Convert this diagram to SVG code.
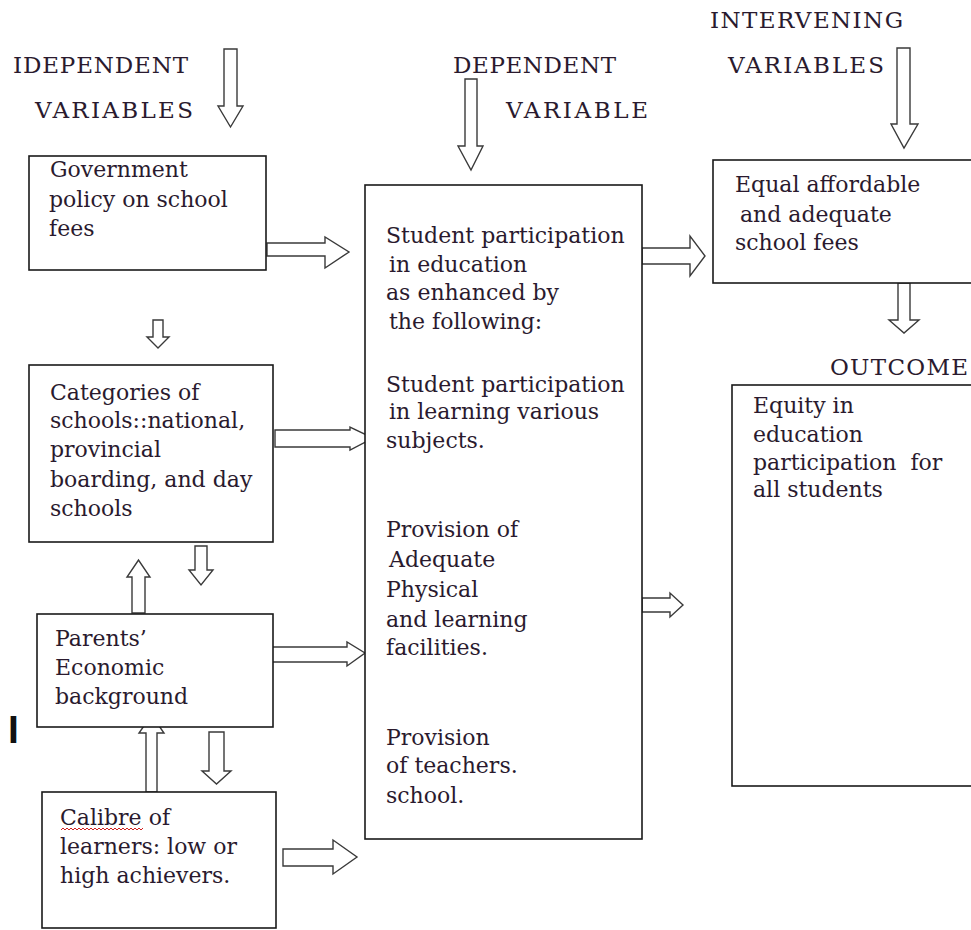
<svg xmlns="http://www.w3.org/2000/svg" width="971" height="930" viewBox="0 0 971 930">
<style>
.bg{fill:#ffffff}
.box{fill:#ffffff;stroke:#1a1a1a;stroke-width:1.6}
.arr{fill:#ffffff;stroke:#3a3a3a;stroke-width:1.4;stroke-linejoin:miter}
text{font-family:"DejaVu Serif","Liberation Serif",serif;font-size:22px;fill:#2a1a2e}
.hd{font-size:23px}
</style>
<rect class="bg" x="0" y="0" width="971" height="930"/>
<g id="headers">
<text class="hd" x="13" y="73" textLength="175" lengthAdjust="spacing">IDEPENDENT</text>
<text class="hd" x="35" y="118" textLength="158" lengthAdjust="spacing">VARIABLES</text>
<text class="hd" x="453" y="73" textLength="163" lengthAdjust="spacing">DEPENDENT</text>
<text class="hd" x="506" y="118" textLength="142" lengthAdjust="spacing">VARIABLE</text>
<text class="hd" x="710" y="28" textLength="193" lengthAdjust="spacing">INTERVENING</text>
<text class="hd" x="728" y="73" textLength="156" lengthAdjust="spacing">VARIABLES</text>
<text class="hd" x="830" y="375" textLength="138" lengthAdjust="spacing">OUTCOME</text>
<text x="8" y="743" style="font-family:'Liberation Sans',sans-serif;font-size:39px;font-weight:bold;fill:#111">I</text>
</g>
<g id="connectors">
<path class="arr" d="M224,49 H237 V106 H243 L230.5,127 L218,106 H224 Z"/>
<path class="arr" d="M465,79 H477 V146 H483 L471,170 L458,146 H465 Z"/>
<path class="arr" d="M897,48 H910 V124 H918 L904,148 L891,124 H897 Z"/>
<path class="arr" d="M153,320 H163 V337 H169 L158,348 L147,337 H153 Z"/>
<path class="arr" d="M195,546 H207 V570 H213 L201,585 L189,570 H195 Z"/>
<path class="arr" d="M132,613 H145 V577 H150 L138.5,560 L127,577 H132 Z"/>
<path class="arr" d="M146,792 H157 V733 H164 L151.5,715 L139,733 H146 Z"/>
<path class="arr" d="M209,732 H224 V771 H231 L216.5,784 L202,771 H209 Z"/>
<path class="arr" d="M898,283 H910 V320 H919 L904,333 L889,320 H898 Z"/>
<path class="arr" d="M267,243 H325 V237 L349,252 L325,268 V256 H267 Z"/>
<path class="arr" d="M275,430 H350 V427 L373,438 L350,450 V447 H275 Z"/>
<path class="arr" d="M267,647 H347 V642 L365,653 L347,666 V662 H267 Z"/>
<path class="arr" d="M283,849 H333 V840 L357,857 L333,874 V866 H283 Z"/>
<path class="arr" d="M642,248 H690 V236 L705,256 L690,276 V264 H642 Z"/>
<path class="arr" d="M642,598 H670 V593 L683,605 L670,617 V612 H642 Z"/>
</g>
<g id="government">
<rect class="box" x="29" y="156" width="237" height="114"/>
<text x="50" y="177">Government</text>
<text x="49" y="207">policy on school</text>
<text x="49" y="236">fees</text>
</g>
<g id="categories">
<rect class="box" x="29" y="365" width="244" height="177"/>
<text x="50" y="400">Categories of</text>
<text x="50" y="428">schools::national,</text>
<text x="50" y="457">provincial</text>
<text x="50" y="487">boarding, and day</text>
<text x="50" y="516">schools</text>
</g>
<g id="parents">
<rect class="box" x="37" y="614" width="236" height="113"/>
<text x="55" y="646">Parents’</text>
<text x="55" y="675">Economic</text>
<text x="55" y="704">background</text>
</g>
<g id="calibre">
<rect class="box" x="42" y="792" width="234" height="136"/>
<text x="60" y="825">Calibre of</text>
<path d="M61,830 l2,-2 l2,2 l2,-2 l2,2 l2,-2 l2,2 l2,-2 l2,2 l2,-2 l2,2 l2,-2 l2,2 l2,-2 l2,2 l2,-2 l2,2 l2,-2 l2,2 l2,-2 l2,2 l2,-2 l2,2 l2,-2 l2,2 l2,-2 l2,2 l2,-2 l2,2 l2,-2 l2,2 l2,-2 l2,2 l2,-2 l2,2 l2,-2 l2,2 l2,-2 l2,2 l2,-2 l2,2 l2,-2" fill="none" stroke="#d02020" stroke-width="1"/>
<text x="60" y="854">learners: low or</text>
<text x="60" y="883">high achievers.</text>
</g>
<g id="dependent">
<rect class="box" x="365" y="185" width="277" height="654"/>
<text x="386" y="243">Student participation</text>
<text x="389" y="272">in education</text>
<text x="386" y="300">as enhanced by</text>
<text x="389" y="329">the following:</text>
<text x="386" y="392">Student participation</text>
<text x="389" y="419">in learning various</text>
<text x="386" y="448">subjects.</text>
<text x="386" y="537">Provision of</text>
<text x="389" y="567">Adequate</text>
<text x="386" y="597">Physical</text>
<text x="386" y="627">and learning</text>
<text x="386" y="655">facilities.</text>
<text x="386" y="745">Provision</text>
<text x="386" y="773">of teachers.</text>
<text x="386" y="803">school.</text>
</g>
<g id="intervening">
<rect class="box" x="713" y="160" width="262" height="123"/>
<text x="735" y="192">Equal affordable</text>
<text x="740" y="222">and adequate</text>
<text x="735" y="250">school fees</text>
</g>
<g id="outcome">
<rect class="box" x="732" y="385" width="243" height="401"/>
<text x="753" y="413">Equity in</text>
<text x="753" y="442">education</text>
<text x="753" y="470" xml:space="preserve">participation  for</text>
<text x="753" y="497">all students</text>
</g>
</svg>
